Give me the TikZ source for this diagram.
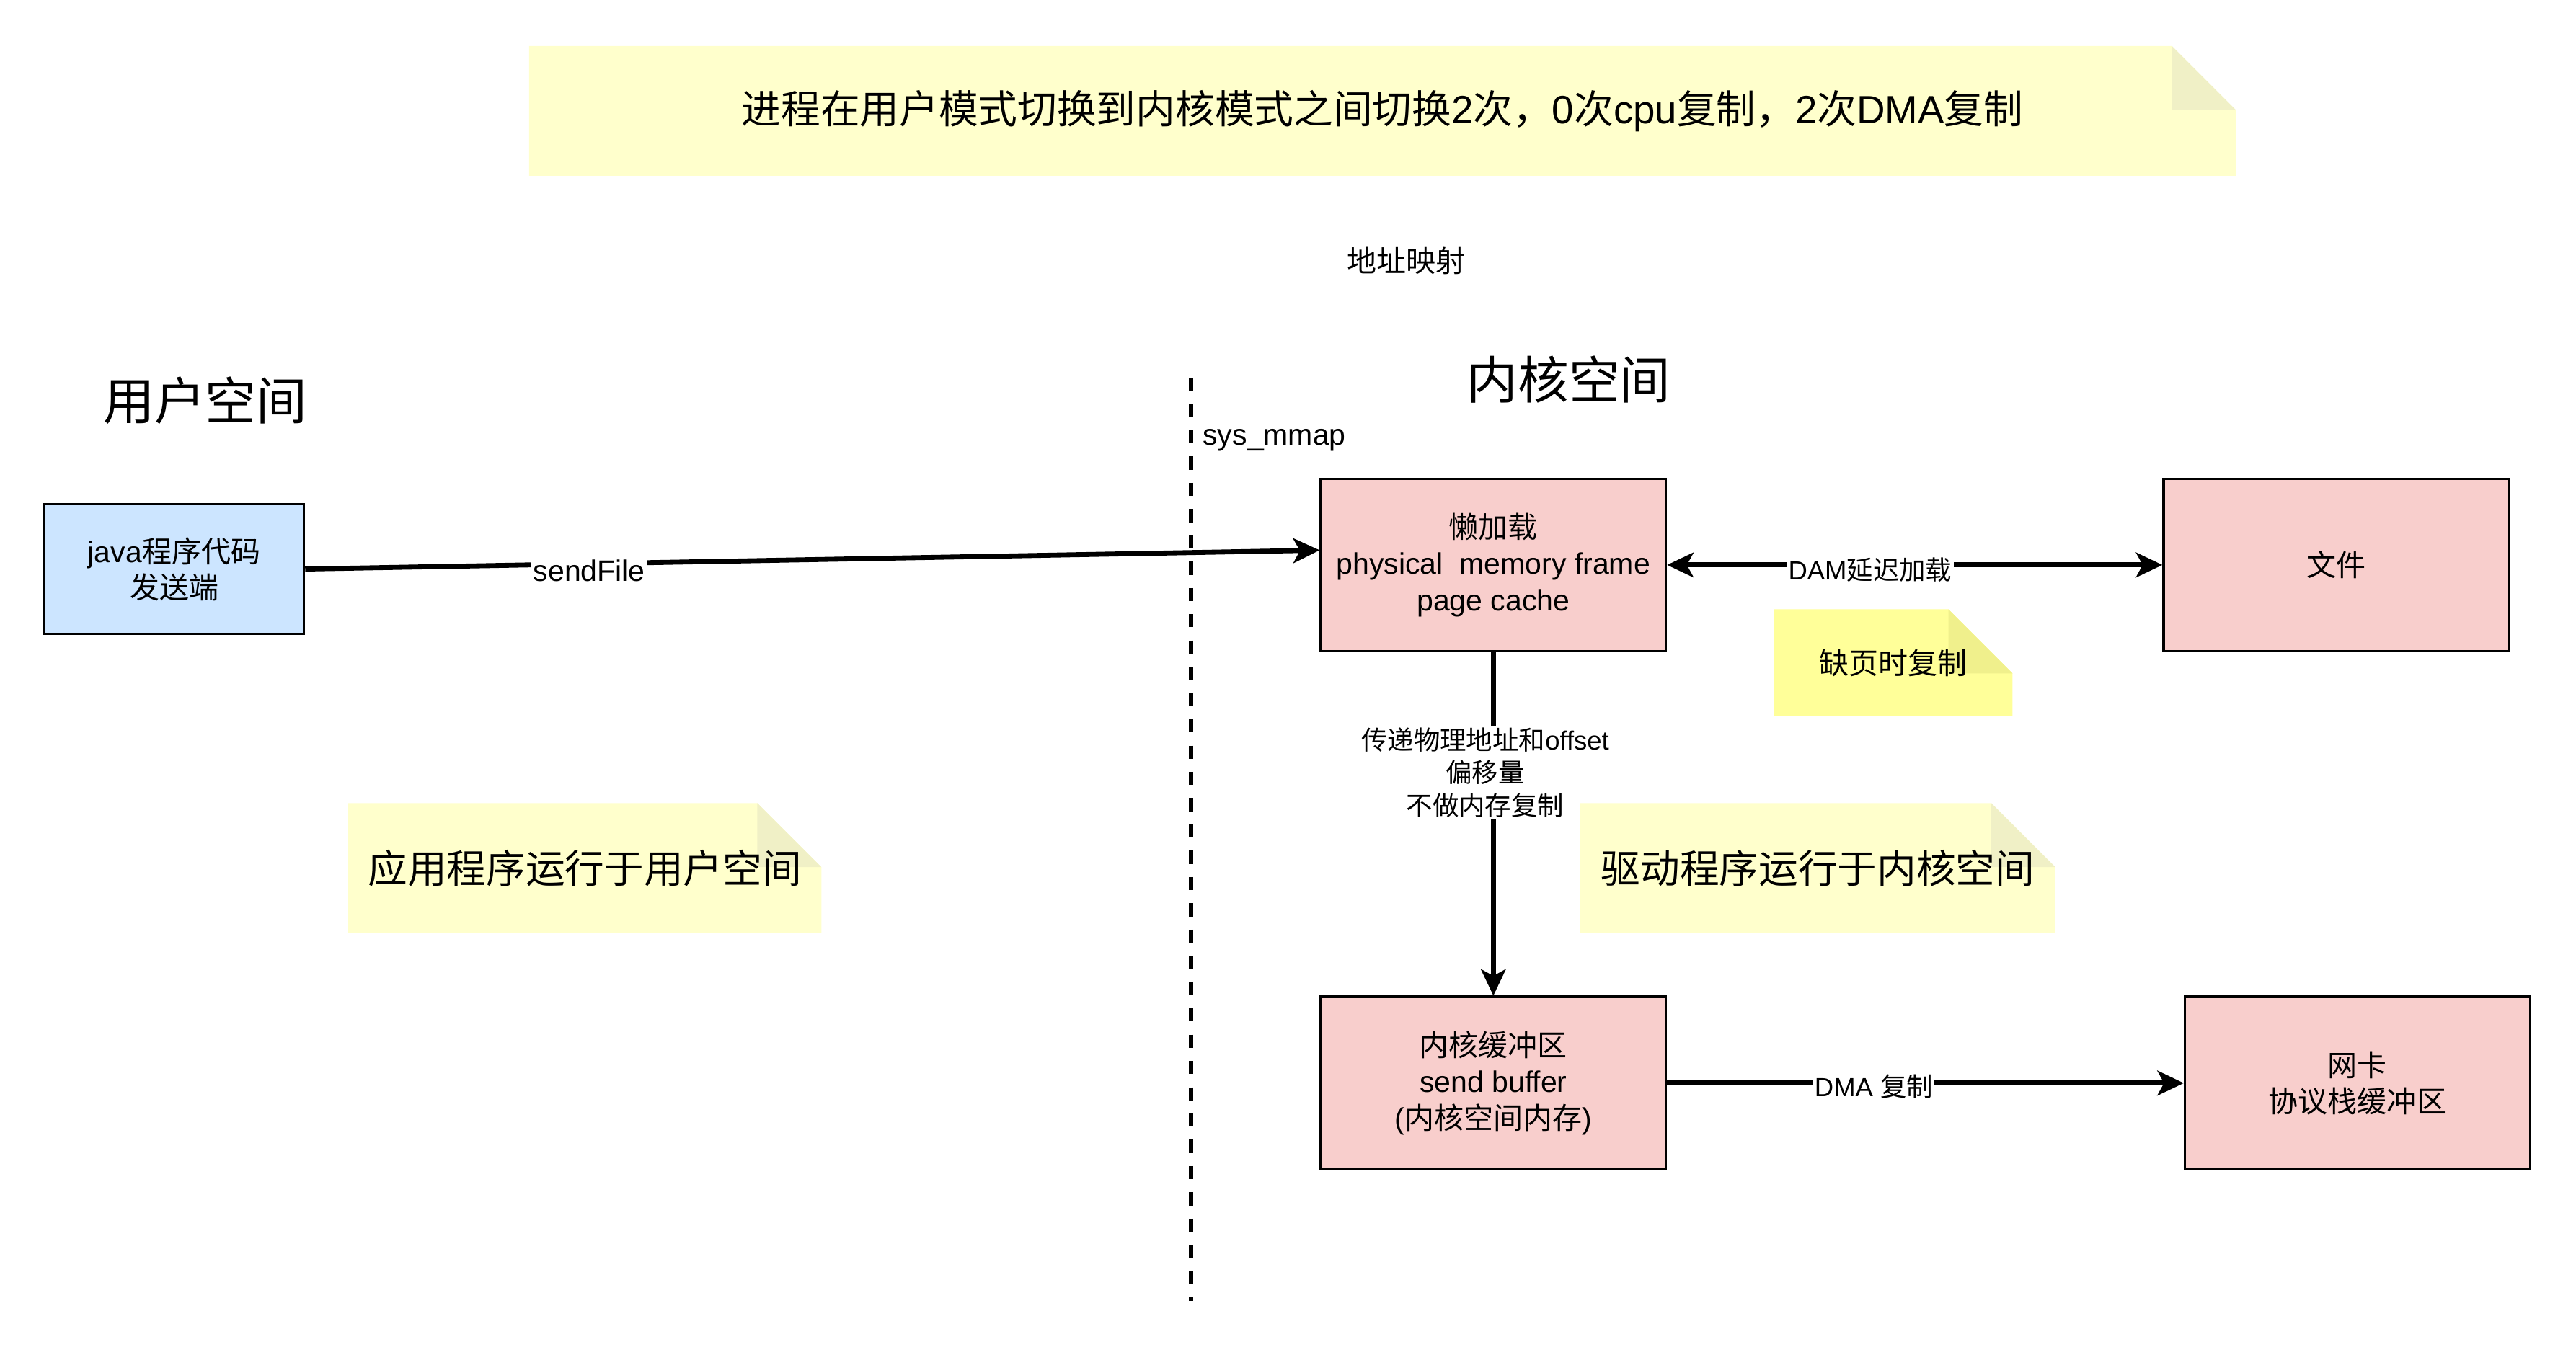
\documentclass[tikz,border=0pt]{standalone}
\usepackage{fontspec}
\setmainfont{Liberation Sans}
\newfontfamily\latinfont{Liberation Sans}
\newfontfamily\cjkfont{Noto Sans CJK SC}
\usetikzlibrary{arrows.meta}

% switch to the CJK font for ideographs
\XeTeXinterchartokenstate=1
\newXeTeXintercharclass\cjkclass
\count255="4E00
\loop
  \XeTeXcharclass\count255=\cjkclass
  \ifnum\count255<"9FFF \advance\count255 by 1
\repeat
\XeTeXcharclass"FF0C=\cjkclass
\XeTeXinterchartoks 0 \cjkclass = {\cjkfont}
\XeTeXinterchartoks 4095 \cjkclass = {\cjkfont}
\XeTeXinterchartoks \cjkclass 0 = {\latinfont}
\XeTeXinterchartoks \cjkclass 4095 = {\latinfont}

\definecolor{notefill}{HTML}{FFFFCC}
\definecolor{notefold}{HTML}{F0F0C6}
\definecolor{hotfill}{HTML}{FFFF99}
\definecolor{hotfold}{HTML}{F0F08C}
\definecolor{kernpink}{HTML}{F8CECC}
\definecolor{userblue}{HTML}{CCE5FF}

\tikzset{
	box/.style={draw=black, line width=1.5pt, align=center, inner sep=0pt,
		minimum width=210pt, minimum height=105pt, font=\fontsize{18}{22}\selectfont},
	userbox/.style={box, fill=userblue, minimum width=158pt, minimum height=79pt},
	kernbox/.style={box, fill=kernpink},
	tip/.tip={Stealth[length=16pt,width=15pt,inset=4pt]},
	conn/.style={line width=3pt, -tip},
	lbl/.style={fill=white, inner sep=1pt, align=center, font=\fontsize{16}{20}\selectfont},
	notetext/.style={align=center, inner sep=0pt},
	plain/.style={inner sep=0pt, font=\fontsize{18}{22}\selectfont},
	title/.style={inner sep=0pt, font=\fontsize{31}{36}\selectfont},
}

% sticky note: name, x1, y1, x2, y2, fill, fold, text
\newcommand{\stickynote}[8]{
	\fill[#6] (#2,#3) -- (#4-39,#3) -- (#4,#3+39) -- (#4,#5) -- (#2,#5) -- cycle;
	\fill[#7] (#4-39,#3) -- (#4-39,#3+39) -- (#4,#3+39) -- cycle;
	\node[notetext] (#1) at ({(#2+#4)/2},{(#3+#5)/2}) {#8};
}

\begin{document}
\begin{tikzpicture}[x=1pt, y=-1pt]
	\useasboundingbox (0,0) rectangle (1568,820);
	
	\node[plain] (mapping) at (856,159) {地址映射};
	\node[title] (userspace) at (125,244) {用户空间};
	\node[title] (kernelspace) at (955,231) {内核空间};
	
	\coordinate (divtop) at (725,230);
	\coordinate (divbot) at (725,792);
	\draw[line width=3pt, dash pattern=on 8pt off 8pt] (divtop) -- (divbot);
	\node[plain, anchor=west] (mmap) at (732,268) {sys\_mmap};
	
	\node[userbox] (java) at (106,346.5) {java程序代码\\发送端};
	\node[kernbox] (pagecache) at (909,344) {懒加载\\physical\ \ memory frame\\page cache};
	\node[kernbox] (file) at (1422,344) {文件};
	\node[kernbox] (sendbuf) at (909,659.5) {内核缓冲区\\send buffer\\(内核空间内存)};
	\node[kernbox] (nic) at (1435,659.5) {网卡\\协议栈缓冲区};
	
	\draw[conn] (java.east) -- node[lbl, pos=0.28, yshift=-4pt, font=\fontsize{18}{22}\selectfont] {sendFile} ([yshift=9pt]pagecache.west);
	\draw[conn, tip-tip] (pagecache.east) -- node[lbl, pos=0.41, yshift=-3pt] {DAM延迟加载} (file.west);
	\draw[conn] (pagecache.south) -- node[lbl, pos=0.35, xshift=-5pt] {传递物理地址和offset\\偏移量\\不做内存复制} (sendbuf.north);
	\draw[conn] (sendbuf.east) -- node[lbl, pos=0.40, yshift=-2pt] {DMA 复制} (nic.west);
	
	\stickynote{summary}{322}{28}{1361}{107}{notefill}{notefold}{\fontsize{24}{28}\selectfont 进程在用户模式切换到内核模式之间切换2次，0次cpu复制，2次DMA复制}
	\stickynote{appnote}{212}{489}{500}{568}{notefill}{notefold}{\fontsize{24}{28}\selectfont 应用程序运行于用户空间}
	\stickynote{drvnote}{962}{489}{1251}{568}{notefill}{notefold}{\fontsize{24}{28}\selectfont 驱动程序运行于内核空间}
	\stickynote{faultnote}{1080}{371}{1225}{436}{hotfill}{hotfold}{\fontsize{18}{22}\selectfont 缺页时复制}
\end{tikzpicture}
\end{document}
